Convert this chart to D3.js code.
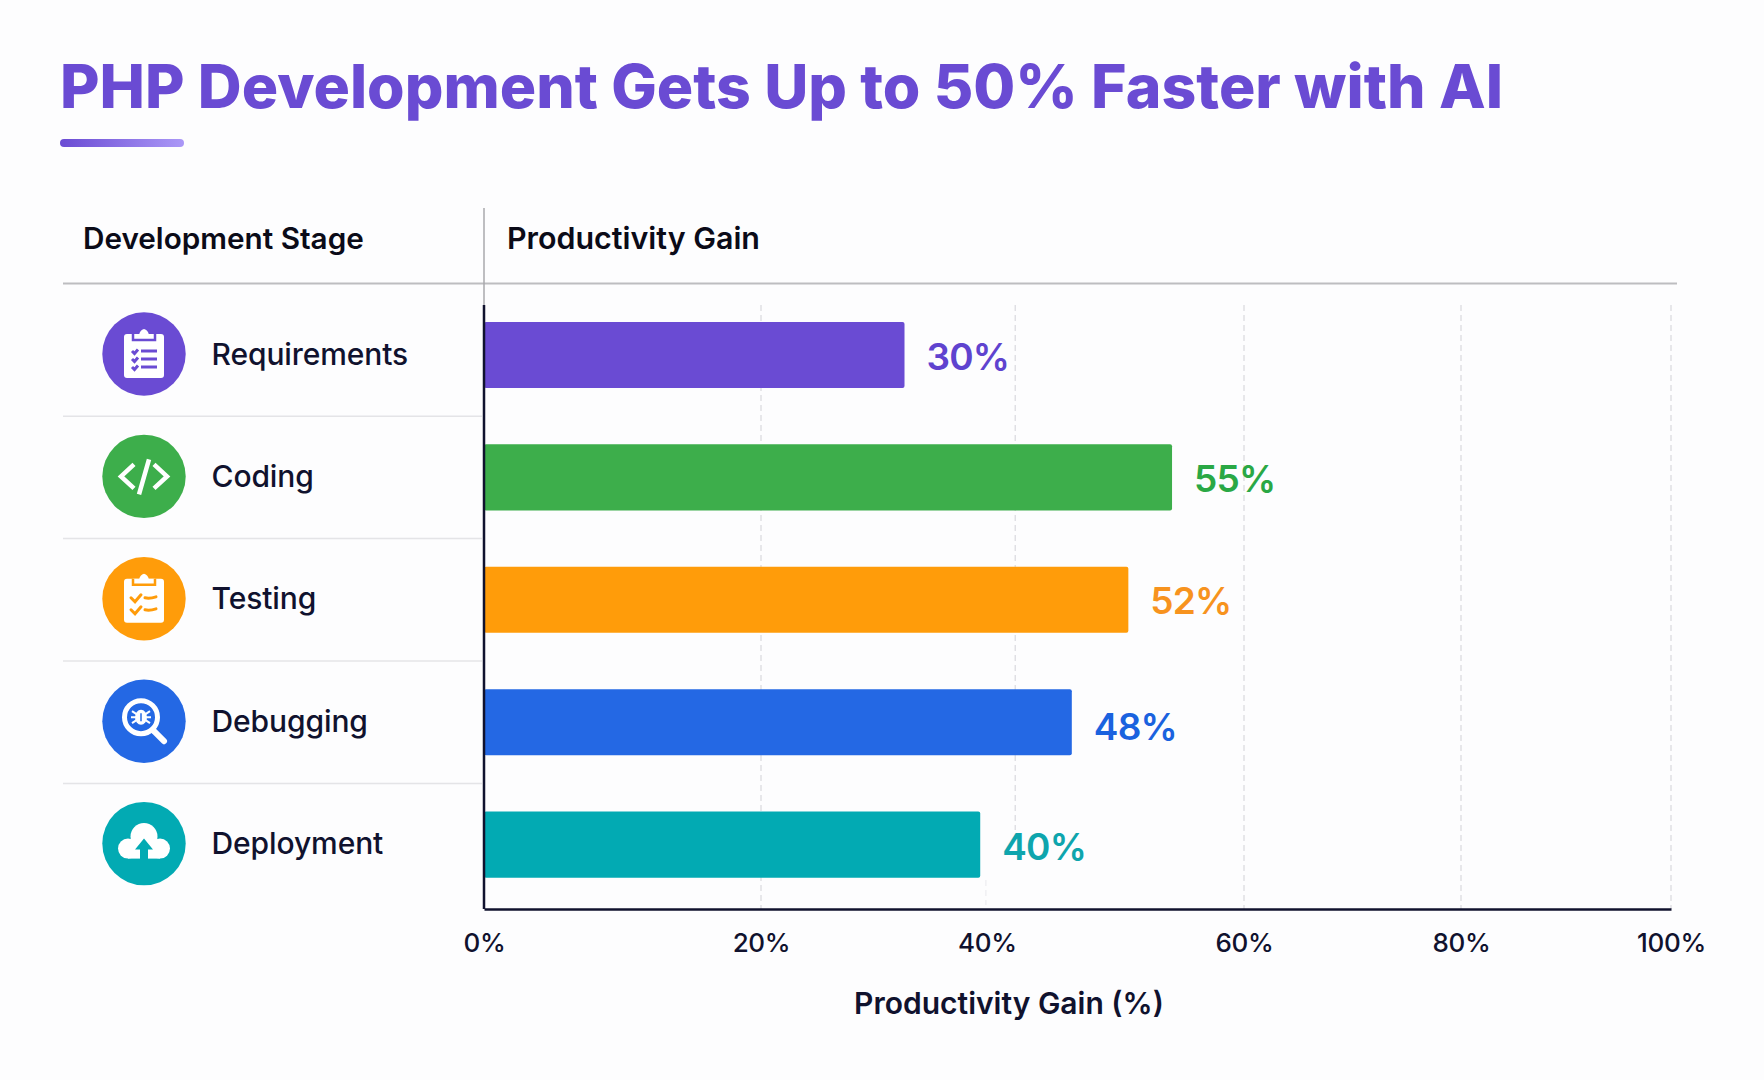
<!DOCTYPE html>
<html>
<head>
<meta charset="utf-8">
<title>PHP Development Gets Up to 50% Faster with AI</title>
<script src="https://cdn.jsdelivr.net/npm/d3@7"></script>
<style>
  html, body { margin: 0; padding: 0; background: #fdfdfe; }
  svg { display: block; }
  text { font-family: Inter, "Noto Sans", sans-serif; }
</style>
</head>
<body>
<svg></svg>
<script>
//chart data
const stages = ['Requirements', 'Coding', 'Testing', 'Debugging', 'Deployment'];
const gains = [30, 55, 52, 48, 40]; //printed next to the bars
const barReadings = [32.7, 54.4, 51.0, 46.6, 39.4]; //bar ends read against the drawn axis
const tickValues = [0, 20, 40, 60, 80, 100];
const gridValues = [20, 60, 80, 100];
const offsetGridValue = 42.2; //the 40% gridline sits right of its label and stops above it
const gridStubValue = 39.9; //faint leftover under the teal bar

//colours
const barColours = ['#6a4bd3', '#3dae4b', '#ff9c0a', '#2468e4', '#02aab3'];
const labelColours = ['#5f43cf', '#2aa845', '#f7931e', '#1a62df', '#0ea5ad'];
const navy = '#10122e';

//svg size
const width = 1764;
const height = 1080;

var svg = d3.select('svg')
  .attr('width', width)
  .attr('height', height)
  .attr('viewBox', [0, 0, width, height]);

//scales, the ticks in the picture are not evenly spaced
var x = d3.scaleLinear().domain(tickValues).range([484, 761, 987, 1244, 1461, 1671]);
var y = d3.scaleBand().domain(stages).range([293.8, 905.8]).paddingInner(0.46).paddingOuter(0.23);
var plotTop = 305;
var plotBottom = 909;
var labelNudge = [0, 0, -1, 3, 0]; //value labels are not all centred on their bars

//underline gradient
var grad = svg.append('defs').append('linearGradient').attr('id', 'underline');
grad.append('stop').attr('offset', '0%').attr('stop-color', '#6a4bd3');
grad.append('stop').attr('offset', '100%').attr('stop-color', '#ab98f7');

//title
svg.append('text')
  .text('PHP Development Gets Up to 50% Faster with AI')
  .attr('x', 60)
  .attr('y', 108)
  .attr('font-size', 60)
  .attr('font-weight', 800)
  .attr('fill', '#6a4bd3')
  .attr('textLength', 1443)
  .attr('lengthAdjust', 'spacingAndGlyphs');

svg.append('rect')
  .attr('x', 60)
  .attr('y', 139)
  .attr('width', 124)
  .attr('height', 8)
  .attr('rx', 4)
  .attr('fill', 'url(#underline)');

//table header
svg.append('text').text('Development Stage')
  .attr('x', 83).attr('y', 249)
  .attr('font-size', 29.7).attr('font-weight', 600).attr('fill', '#0b0b18');
svg.append('text').text('Productivity Gain')
  .attr('x', 507).attr('y', 249)
  .attr('font-size', 30.4).attr('font-weight', 600).attr('fill', '#0b0b18');

svg.append('line')
  .attr('x1', 63).attr('x2', 1677)
  .attr('y1', 283.5).attr('y2', 283.5)
  .attr('stroke', '#bdbdc0').attr('stroke-width', 2);
svg.append('line')
  .attr('x1', 484).attr('x2', 484)
  .attr('y1', 208).attr('y2', plotTop)
  .attr('stroke', '#a9a9ad').attr('stroke-width', 1.5);

//row separators
svg.append('g').selectAll('line')
  .data(stages.slice(1))
  .join('line')
  .attr('x1', 63).attr('x2', 482)
  .attr('y1', d => y(d) - (y.step() - y.bandwidth()) / 2)
  .attr('y2', d => y(d) - (y.step() - y.bandwidth()) / 2)
  .attr('stroke', '#e4e4e7').attr('stroke-width', 1.5);

//dashed gridlines
svg.append('g').selectAll('line')
  .data(gridValues)
  .join('line')
  .attr('x1', d => x(d)).attr('x2', d => x(d))
  .attr('y1', plotTop).attr('y2', plotBottom)
  .attr('stroke', '#dfdfe4').attr('stroke-width', 1.5)
  .attr('stroke-dasharray', '6 4');

svg.append('line')
  .attr('x1', x(offsetGridValue)).attr('x2', x(offsetGridValue))
  .attr('y1', plotTop).attr('y2', 830)
  .attr('stroke', '#dfdfe4').attr('stroke-width', 1.5)
  .attr('stroke-dasharray', '6 4');

svg.append('line')
  .attr('x1', x(gridStubValue)).attr('x2', x(gridStubValue))
  .attr('y1', 880).attr('y2', 905)
  .attr('stroke', '#f0f0f3').attr('stroke-width', 1.5)
  .attr('stroke-dasharray', '6 4');

//bars
svg.append('g').selectAll('rect')
  .data(stages)
  .join('rect')
  .attr('x', x(0))
  .attr('y', d => y(d))
  .attr('width', (d, i) => x(barReadings[i]) - x(0))
  .attr('height', y.bandwidth())
  .attr('rx', 2)
  .attr('fill', (d, i) => barColours[i]);

//value labels
svg.append('g').selectAll('text')
  .data(stages)
  .join('text')
  .text((d, i) => gains[i] + '%')
  .attr('x', (d, i) => x(barReadings[i]) + 22)
  .attr('y', (d, i) => y(d) + y.bandwidth() / 2 + 15 + labelNudge[i])
  .attr('font-size', 37)
  .attr('font-weight', 600)
  .attr('letter-spacing', -0.8)
  .attr('fill', (d, i) => labelColours[i]);

//x axis
var xAxis = svg.append('g')
  .attr('transform', 'translate(0,' + plotBottom + ')')
  .call(d3.axisBottom(x).tickValues(tickValues).tickFormat(d => d + '%').tickSize(0).tickPadding(25));
xAxis.select('.domain').attr('stroke', navy).attr('stroke-width', 2.5);
xAxis.selectAll('text')
  .attr('font-size', 26)
  .attr('font-weight', 500)
  .attr('font-family', 'Inter')
  .attr('letter-spacing', -0.3)
  .attr('fill', navy);

//y axis line
svg.append('line')
  .attr('x1', x(0)).attr('x2', x(0))
  .attr('y1', plotTop).attr('y2', plotBottom)
  .attr('stroke', navy).attr('stroke-width', 2.5);

svg.append('text').text('Productivity Gain (%)')
  .attr('x', 1009).attr('y', 1014)
  .attr('text-anchor', 'middle')
  .attr('font-size', 30).attr('font-weight', 600).attr('fill', navy);

//stage names
svg.append('g').selectAll('text')
  .data(stages)
  .join('text')
  .text(d => d)
  .attr('x', 211.5)
  .attr('y', d => y(d) + y.bandwidth() / 2 + 9.5)
  .attr('font-size', 30)
  .attr('font-weight', 500)
  .attr('letter-spacing', -0.1)
  .attr('fill', navy);

//icon drawing, each one draws round 0,0 in its circle
function clipboardBase(g, colour) {
  g.append('rect').attr('x', -20).attr('y', -20).attr('width', 40).attr('height', 44).attr('rx', 3).attr('fill', 'white');
  g.append('path').attr('d', 'M-11,-20 V-14 H11 V-20').attr('fill', 'white').attr('stroke', colour).attr('stroke-width', 2.5);
  g.append('path').attr('d', 'M-11,-19 H-5 Q-4,-24 0,-25 Q4,-24 5,-19 H11').attr('fill', 'white');
}

function listIcon(g, colour) {
  clipboardBase(g, colour);
  [-3, 5, 13].forEach(function(rowY) {
    g.append('path').attr('d', 'M-12,' + rowY + ' l2.5,2.5 l3.5,-4').attr('fill', 'none').attr('stroke', colour).attr('stroke-width', 3);
    g.append('line').attr('x1', -3).attr('x2', 13).attr('y1', rowY).attr('y2', rowY).attr('stroke', colour).attr('stroke-width', 3);
  });
}

function checkIcon(g, colour) {
  clipboardBase(g, colour);
  [-1, 11].forEach(function(rowY) {
    g.append('path').attr('d', 'M-13,' + rowY + ' l4,4 l6,-7 M1,' + rowY + ' q5,1 11,-1')
      .attr('fill', 'none').attr('stroke', colour).attr('stroke-width', 3).attr('stroke-linecap', 'round');
  });
}

function codeIcon(g) {
  g.append('path')
    .attr('d', 'M-10,-12 L-23,0 L-10,12 M10,-12 L23,0 L10,12 M5,-17 L-5,18')
    .attr('fill', 'none').attr('stroke', 'white').attr('stroke-width', 4.5);
}

function bugIcon(g, colour) {
  g.append('circle').attr('cx', -3).attr('cy', -4).attr('r', 16.5).attr('fill', colour).attr('stroke', 'white').attr('stroke-width', 5);
  g.append('line').attr('x1', 10).attr('y1', 10).attr('x2', 20).attr('y2', 20).attr('stroke', 'white').attr('stroke-width', 6).attr('stroke-linecap', 'round');
  g.append('ellipse').attr('cx', -3).attr('cy', -4).attr('rx', 6).attr('ry', 7.5).attr('fill', 'white');
  g.append('path').attr('d', 'M-12,-10 L6,2 M6,-10 L-12,2 M-13,-4 H7').attr('stroke', 'white').attr('stroke-width', 2);
  g.append('line').attr('x1', -3).attr('x2', -3).attr('y1', -8).attr('y2', 0).attr('stroke', colour).attr('stroke-width', 1.5);
}

function cloudIcon(g, colour) {
  g.append('circle').attr('cy', -7).attr('r', 13.5).attr('fill', 'white');
  g.append('circle').attr('cx', -16).attr('cy', 5).attr('r', 10).attr('fill', 'white');
  g.append('circle').attr('cx', 16).attr('cy', 5).attr('r', 10).attr('fill', 'white');
  g.append('rect').attr('x', -16).attr('y', 0).attr('width', 32).attr('height', 15).attr('fill', 'white');
  g.append('path').attr('d', 'M0,-5 L9,6 H4 V16 H-4 V6 H-9 Z').attr('fill', colour);
}

var iconDrawers = [listIcon, codeIcon, checkIcon, bugIcon, cloudIcon];

//icon circles
svg.append('g').selectAll('g')
  .data(stages)
  .join('g')
  .attr('transform', d => 'translate(144,' + (y(d) + y.bandwidth() / 2 - 1) + ')')
  .each(function(d, i) {
    var g = d3.select(this);
    g.append('circle').attr('r', 41.7).attr('fill', barColours[i]);
    iconDrawers[i](g, barColours[i]);
  });
</script>
</body>
</html>
